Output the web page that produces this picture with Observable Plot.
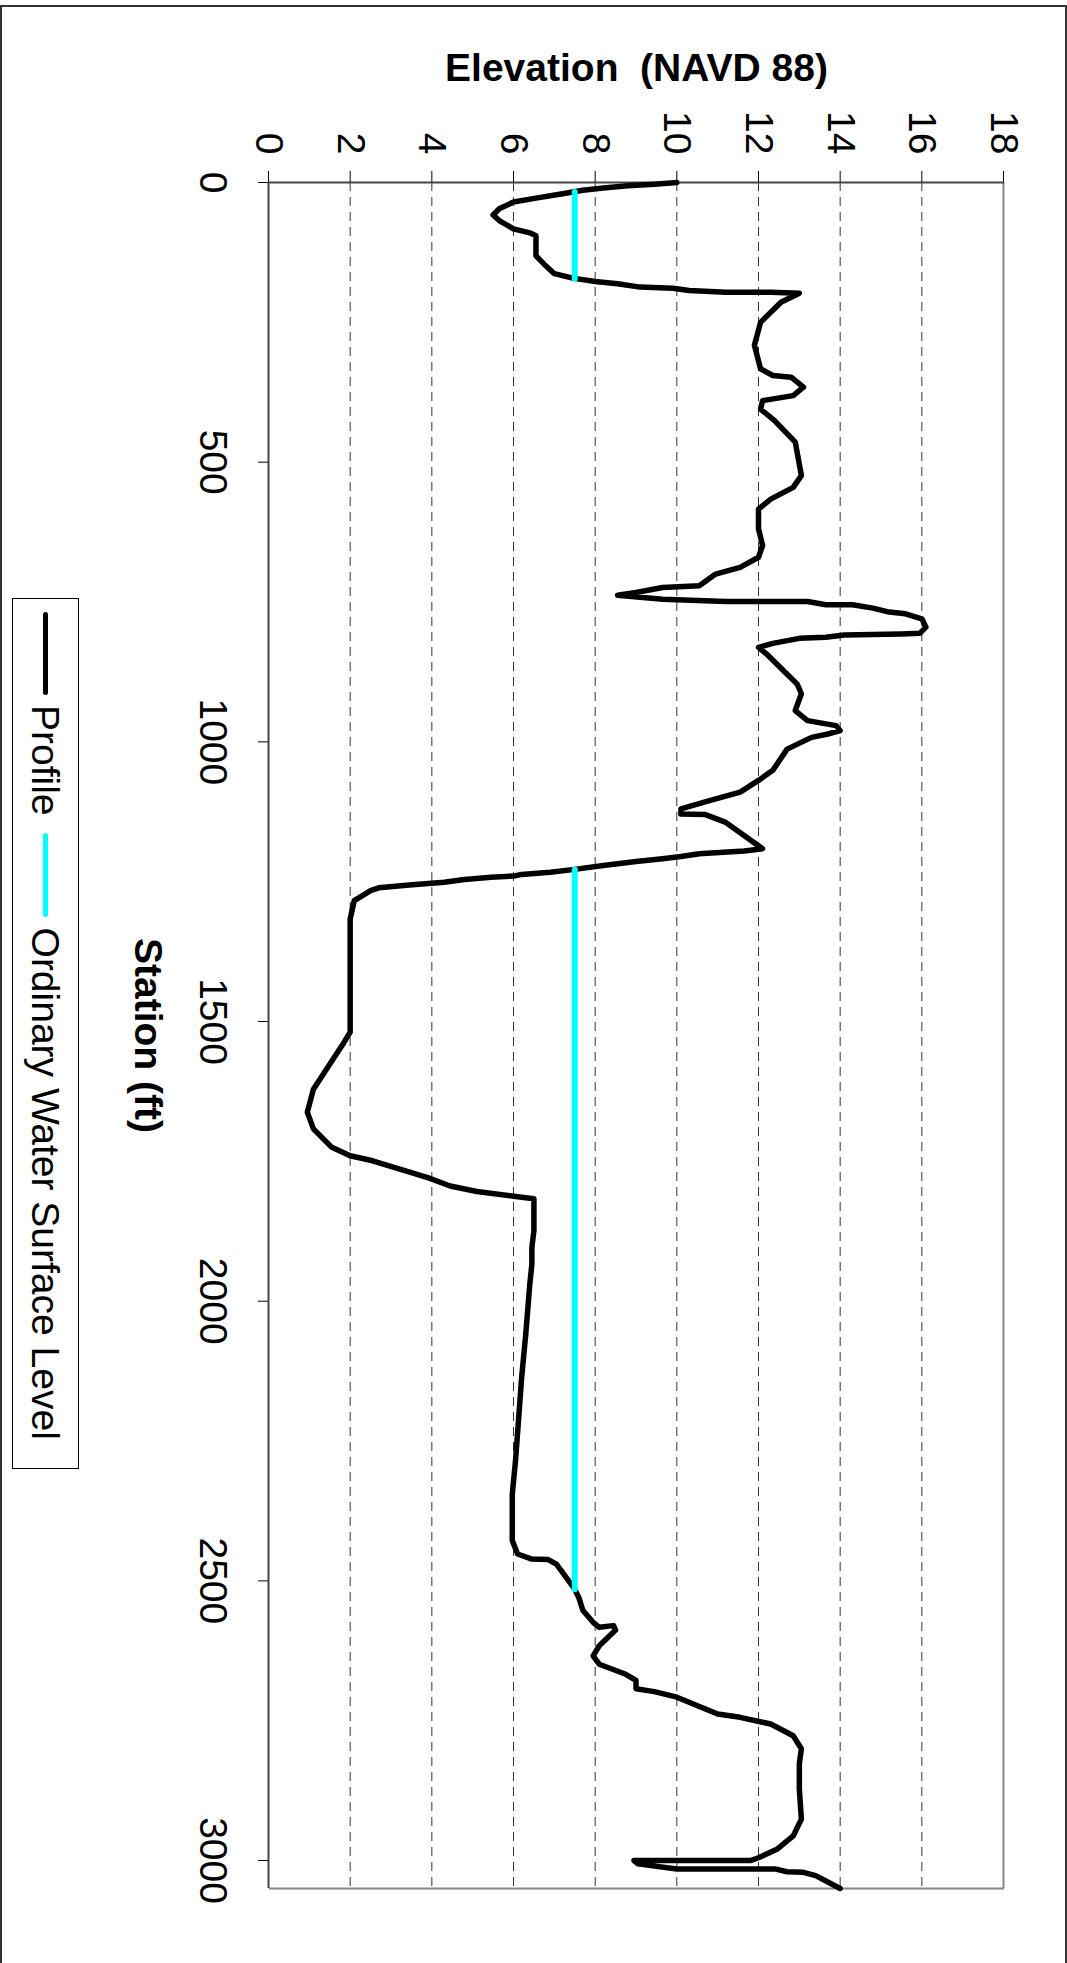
<!DOCTYPE html>
<html>
<head>
<meta charset="utf-8">
<script src="https://cdn.jsdelivr.net/npm/d3@7"></script>
<script src="https://cdn.jsdelivr.net/npm/@observablehq/plot@0.6"></script>
<style>
  html, body { margin: 0; padding: 0; background: #fff; overflow: hidden; width: 1067px; height: 1963px; }
  #frame { position: absolute; left: 0; top: 5px; width: 1067px; height: 2000px; box-sizing: border-box; border: 2px solid #333; }
  #title { position: absolute; left: 269px; width: 735px; top: 48px; text-align: center;
           font: bold 39px/39px "Liberation Sans", Arial, sans-serif; white-space: pre; color: #000; }
  /* the whole chart is laid out sideways: station runs down the page */
  #turn { position: absolute; left: 0; top: 0; width: 1963px; height: 1067px;
          transform-origin: 0 0; transform: translate(1067px, 0) rotate(90deg); }
  #legend { position: absolute; left: 598px; top: 988px; width: 871px; height: 67px; box-sizing: border-box;
            border: 1px solid #000; background: #fff; display: flex; align-items: center;
            font: 39px "Liberation Sans", Arial, sans-serif; color: #000; white-space: pre; }
  .sw { display: inline-block; height: 5px; border-radius: 3px; }
</style>
</head>
<body>
<div id="frame"></div>
<div id="turn">
  <div id="chart"></div>
  <div id="legend">
    <span class="sw" style="background:#000;width:83px;margin-left:13px"></span>
    <span style="margin-left:10px">Profile</span>
    <span class="sw" style="background:#00ffff;width:84px;margin-left:17px"></span>
    <span style="margin-left:11px">Ordinary Water Surface Level</span>
  </div>
</div>
<div id="title">Elevation  (NAVD 88)</div>
<script>
// Ground profile along the cross-section
const station = [
  0, 3, 6, 10, 14, 20, 28, 35, 47, 58, 68, 83, 90, 95, 104, 131, 146, 163, 171, 177,
  181, 187, 189, 193, 196, 196, 198, 214, 250, 291, 333, 345, 348, 366, 381, 390, 405, 426, 464, 524,
  545, 566, 584, 619, 649, 670, 688, 700, 721, 724, 733, 738, 745, 749, 749, 755, 755, 761, 768, 771,
  780, 795, 806, 807, 809, 813, 815, 824, 831, 843, 897, 914, 944, 962, 971, 980, 986, 992, 1013, 1051,
  1069, 1090, 1105, 1120, 1129, 1130, 1144, 1191, 1195, 1200, 1205, 1209, 1214, 1221, 1228, 1233, 1237, 1240, 1242, 1246,
  1251, 1256, 1261, 1266, 1284, 1317, 1519, 1543, 1621, 1662, 1692, 1725, 1740, 1749, 1779, 1794, 1804, 1814, 1817, 1874,
  1904, 1934, 1969, 2059, 2136, 2285, 2345, 2428, 2452, 2461, 2462, 2470, 2485, 2515, 2530, 2553, 2574, 2583, 2580, 2588,
  2616, 2634, 2649, 2667, 2678, 2693, 2698, 2708, 2738, 2744, 2756, 2777, 2800, 2827, 2872, 2926, 2956, 2980, 2995, 3000,
  3000, 3006, 3015, 3015, 3020, 3021, 3027, 3050
];
const elevation = [
  10.0, 9.45, 8.8, 8.2, 7.7, 7.2, 6.55, 6.0, 5.65, 5.5, 5.65, 6.0, 6.4, 6.55, 6.55, 6.55, 6.75, 7.0, 7.45, 8.0,
  8.55, 9.1, 9.9, 10.3, 11.2, 12.3, 13.0, 12.55, 12.05, 11.9, 12.05, 12.35, 12.8, 13.1, 12.85, 12.1, 12.05, 12.4, 12.9, 13.05,
  12.85, 12.3, 12.0, 12.0, 12.1, 12.0, 11.55, 10.95, 10.55, 9.65, 9.0, 8.55, 9.65, 11.2, 13.2, 13.65, 14.3, 14.8, 15.2, 15.6,
  16.0, 16.1, 15.95, 15.5, 14.1, 13.65, 13.0, 12.35, 12.0, 12.2, 12.95, 13.05, 12.9, 13.2, 13.9, 14.0, 13.7, 13.3, 12.7, 12.35,
  12.0, 11.55, 10.8, 10.1, 10.1, 10.7, 11.2, 12.1, 11.65, 10.55, 10.1, 9.65, 9.0, 8.2, 7.5, 6.9, 6.2, 6.0, 5.45, 4.8,
  4.3, 3.45, 2.7, 2.5, 2.1, 2.0, 2.0, 1.8, 1.1, 0.95, 1.1, 1.55, 2.0, 2.55, 3.9, 4.45, 5.1, 6.2, 6.5, 6.5,
  6.45, 6.45, 6.4, 6.3, 6.2, 6.05, 5.97, 5.97, 6.1, 6.45, 6.85, 7.05, 7.2, 7.5, 7.6, 7.7, 7.95, 8.1, 8.45, 8.5,
  8.1, 7.95, 8.1, 8.75, 9.0, 9.0, 9.45, 10.0, 11.0, 11.55, 12.3, 12.85, 13.05, 13.0, 13.0, 13.05, 12.85, 12.45, 12.0, 11.8,
  8.95, 9.05, 10.0, 12.4, 12.7, 13.1, 13.4, 14.0
];

// Ordinary water surface level, one segment per wetted reach
const waterStart = [17, 1228];
const waterEnd = [172, 2515];
const waterLevel = [7.5, 7.5];

// Axis settings
const stationDomain = [0, 3050];
const elevationDomain = [0, 18];
const stationTicks = [0, 500, 1000, 1500, 2000, 2500, 3000];
const elevationTicks = [0, 2, 4, 6, 8, 10, 12, 14, 16, 18];
const gridElevations = [2, 4, 6, 8, 10, 12, 14, 16];

const profile = station.map((s, i) => ({station: s, elevation: elevation[i]}));
const water = waterStart.map((s, i) => ({start: s, end: waterEnd[i], level: waterLevel[i]}));

const chart = Plot.plot({
  width: 1963,
  height: 1067,
  marginLeft: 182,
  marginRight: 75,
  marginTop: 63,
  marginBottom: 269,
  style: {
    fontFamily: '"Liberation Sans", Arial, sans-serif',
    fontSize: "39px",
    color: "#000",
    background: "transparent",
    overflow: "visible"
  },
  x: {domain: stationDomain, ticks: stationTicks, tickSize: 11, tickPadding: 30, tickFormat: d3.format("d"), label: null},
  y: {domain: elevationDomain, ticks: elevationTicks, tickSize: 11, tickPadding: 17, tickFormat: d3.format("d"), label: null},
  marks: [
    Plot.ruleY(gridElevations, {stroke: "#333", strokeWidth: 1, strokeDasharray: "9,6"}),
    Plot.ruleY([elevationDomain[1]], {stroke: "#888", strokeWidth: 2}),
    Plot.ruleX([stationDomain[1]], {stroke: "#888", strokeWidth: 2}),
    Plot.ruleY([elevationDomain[0]], {stroke: "#444", strokeWidth: 2}),
    Plot.ruleX([stationDomain[0]], {stroke: "#444", strokeWidth: 2}),
    Plot.line(profile, {x: "station", y: "elevation", stroke: "#000", strokeWidth: 5.5,
                        strokeLinejoin: "round", strokeLinecap: "round"}),
    Plot.link(water, {x1: "start", x2: "end", y1: "level", y2: "level", stroke: "#00ffff",
                      strokeWidth: 6, strokeLinecap: "round"}),
    Plot.text(["Station (ft)"], {text: d => d, frameAnchor: "bottom", lineAnchor: "top", dy: 106,
                                  fontWeight: "bold", fontSize: 39, fill: "#000"})
  ]
});
document.getElementById("chart").appendChild(chart);
</script>
</body>
</html>
